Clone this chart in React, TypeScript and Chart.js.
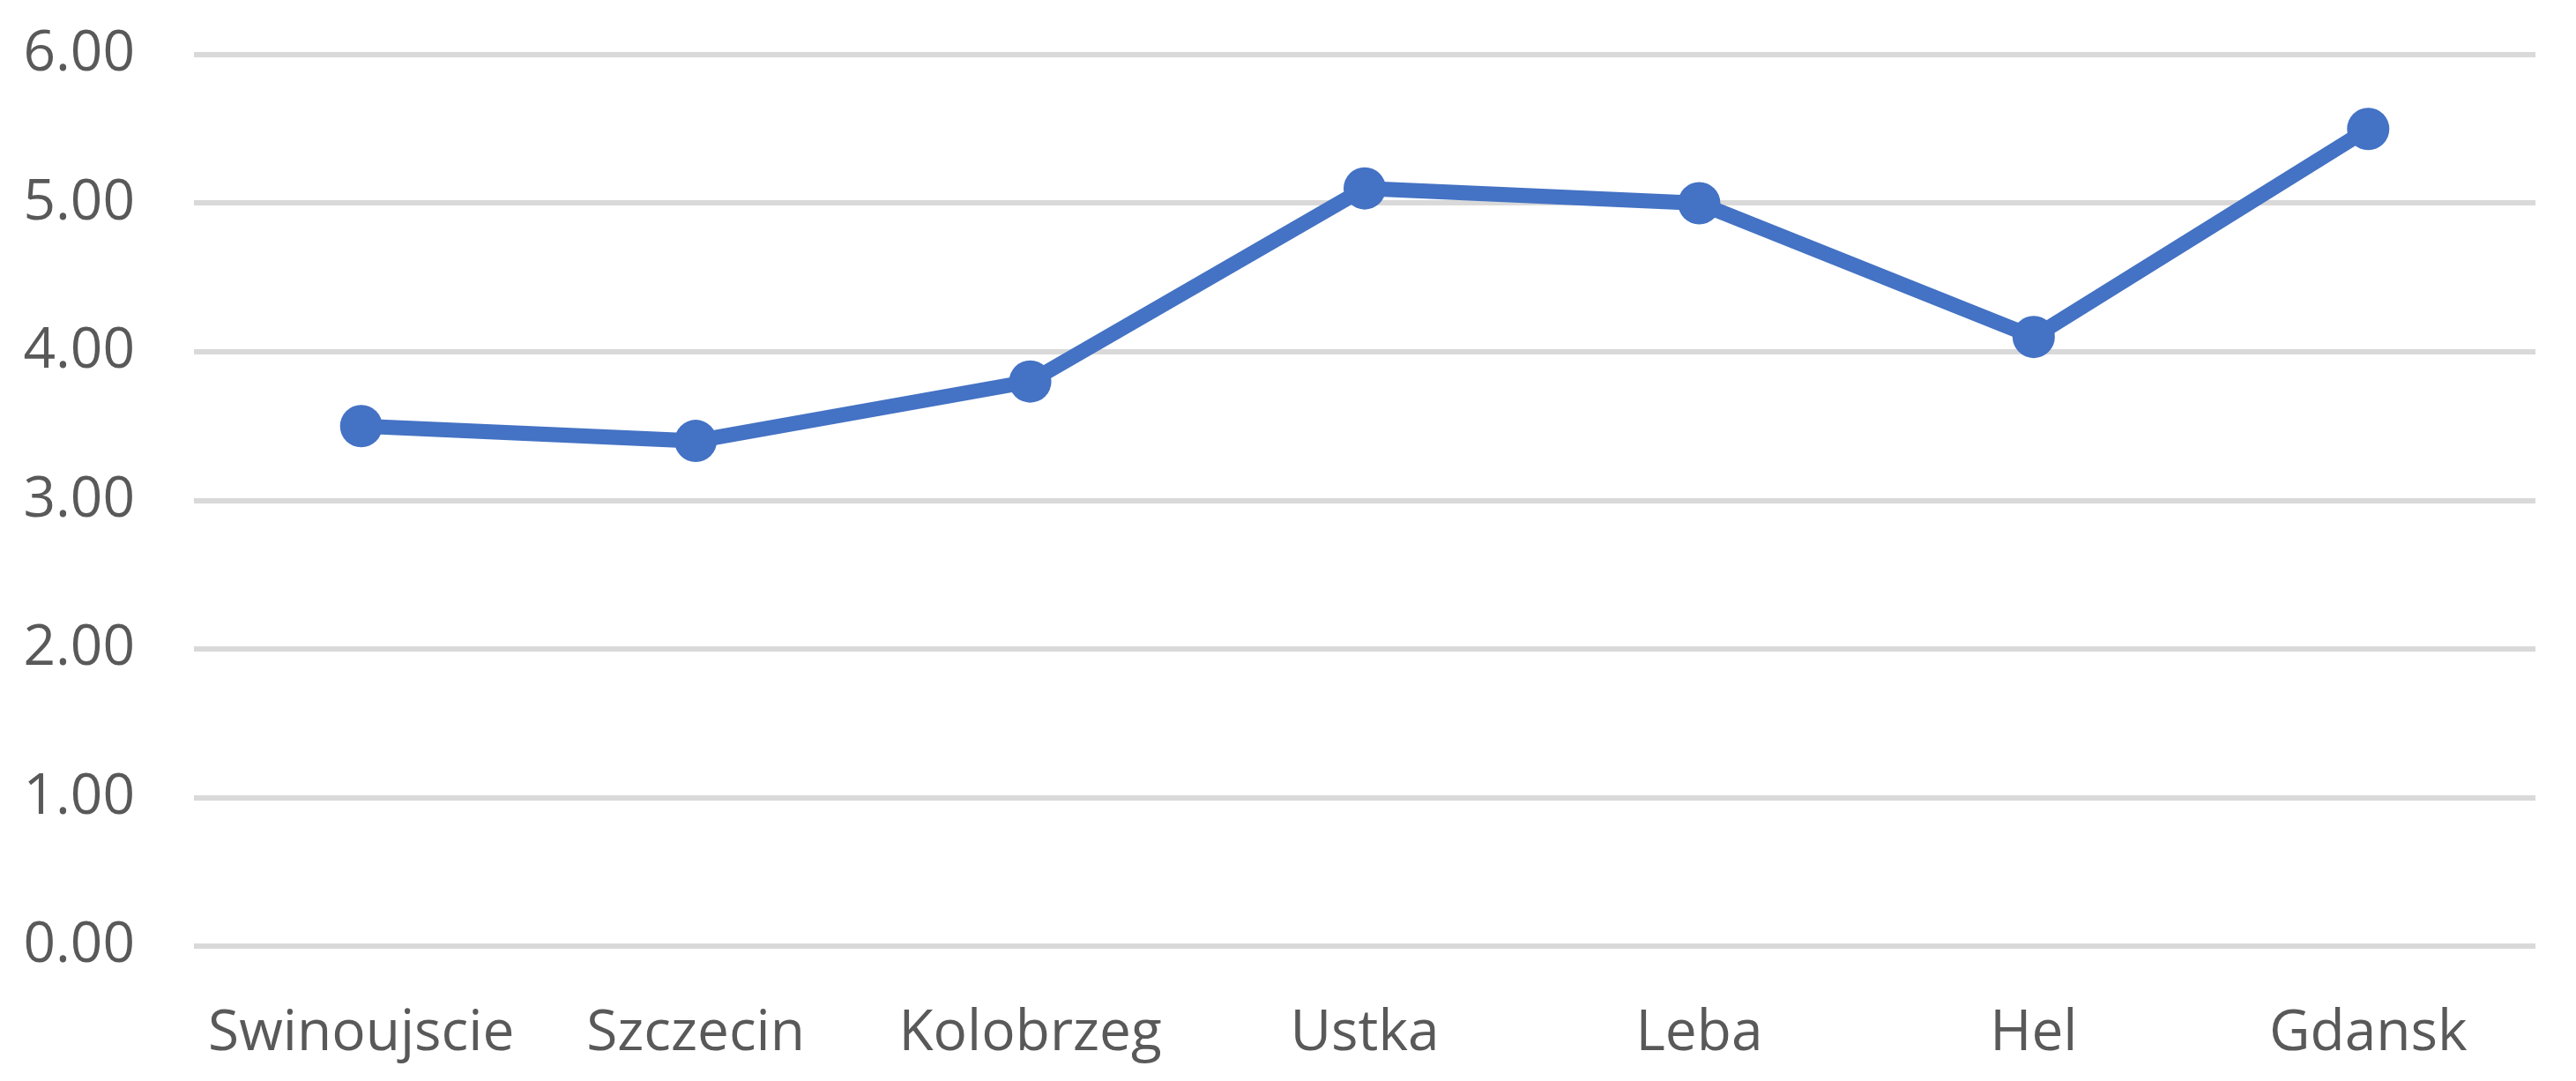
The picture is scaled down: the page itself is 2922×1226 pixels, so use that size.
import React, { useEffect, useRef } from "react";
import { Chart, registerables } from "chart.js";

Chart.register(...registerables);

const categories = ["Swinoujscie", "Szczecin", "Kolobrzeg", "Ustka", "Leba", "Hel", "Gdansk"];
const values = [3.5, 3.4, 3.8, 5.1, 5.0, 4.1, 5.5];
const yTicks = [0, 1, 2, 3, 4, 5, 6];

export default function App() {
  const ref = useRef<HTMLCanvasElement | null>(null);

  useEffect(() => {
    document.body.style.margin = "0";
    const ctx = ref.current!;
    const chart = new Chart(ctx, {
      type: "line",
      data: {
        labels: categories,
        datasets: [
          {
            data: values,
            borderColor: "#4472C4",
            backgroundColor: "#4472C4",
            borderWidth: 17,
            pointRadius: 24,
            pointBorderWidth: 0,
            pointBackgroundColor: "#4472C4",
            tension: 0,
            clip: false as any,
          },
        ],
      },
      options: {
        responsive: false,
        animation: false,
        maintainAspectRatio: false,
        layout: { padding: { top: 62, right: 46, left: 0, bottom: 0 } },
        plugins: { legend: { display: false }, tooltip: { enabled: false } },
        scales: {
          x: {
            offset: true,
            grid: { display: false },
            border: { display: false },
            ticks: {
              color: "#595959",
              font: { family: "'Open Sans'", size: 64 },
              padding: 53,
              maxRotation: 0,
              autoSkip: false,
            },
            afterFit: (s: any) => {
              s.height = 153;
              s.paddingLeft = 0;
              s.paddingRight = 0;
            },
          },
          y: {
            min: 0,
            max: 6,
            afterBuildTicks: (s: any) => {
              s.ticks = yTicks.map((v) => ({ value: v }));
            },
            grid: { color: "#d9d9d9", lineWidth: 6, drawTicks: false },
            border: { display: false },
            ticks: {
              color: "#595959",
              font: { family: "'Open Sans'", size: 64 },
              padding: 67,
              callback: (v: any) => Number(v).toFixed(2),
            },
            afterFit: (s: any) => {
              s.width = 220;
              s.paddingTop = 0;
              s.paddingBottom = 0;
            },
          },
        },
      },
    });
    return () => chart.destroy();
  }, []);

  return (
    <div style={{ position: "absolute", left: 0, top: 0, width: 2922, height: 1226, background: "#fff" }}>
      <canvas ref={ref} width={2922} height={1226} style={{ width: 2922, height: 1226 }} />
    </div>
  );
}
